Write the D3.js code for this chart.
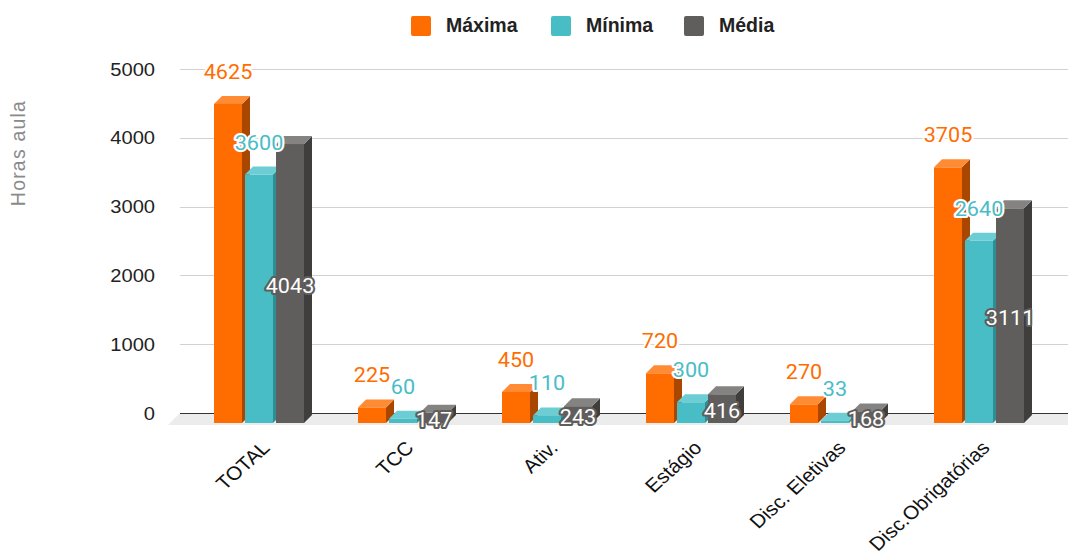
<!DOCTYPE html>
<html><head><meta charset="utf-8">
<script src="https://cdn.jsdelivr.net/npm/d3@7"></script>
<style>body{margin:0;background:#fff;}svg{display:block;}</style>
</head><body>
<svg id="c" width="1068" height="556"></svg>
<script>
const categories = ["TOTAL","TCC","Ativ.","Estágio","Disc. Eletivas","Disc.Obrigatórias"];
const maxima = [4625,225,450,720,270,3705];
const minima = [3600,60,110,300,33,2640];
const media = [4043,147,243,416,168,3111];
const seriesNames = ["Máxima","Mínima","Média"];
const yTicks = [0,1000,2000,3000,4000,5000];
const yTitle = "Horas aula";

const colors = {
  "Máxima": {front:"#ff6d00", top:"#ff8b35", side:"#a94700", label:"#ff6d00", outline:"#ffffff"},
  "Mínima": {front:"#48bdc6", top:"#6ccdd4", side:"#2f8d94", label:"#48bdc6", outline:"#ffffff"},
  "Média":  {front:"#605e5c", top:"#858382", side:"#403e3d", label:"#ffffff", outline:"#605e5c"}
};
const seriesData = {"Máxima":maxima,"Mínima":minima,"Média":media};

const svg = d3.select("#c");
const DX = 8, DY = 8;
const yBack = d3.scaleLinear().domain([0,5000]).range([413,69]);
const yFront = d3.scaleLinear().domain([0,5000]).range([423,78]);
const x = d3.scaleBand().domain(categories).range([187,1051]).padding(0);
const xs = d3.scaleBand().domain(seriesNames).range([0,90]).paddingInner(0.097);

// floor
svg.append("polygon")
  .attr("points", [[180,413],[1068,413],[1068,425],[168,425]].map(p=>p.join(",")).join(" "))
  .attr("fill","#ececec");

// gridlines
svg.append("g").selectAll("line").data(yTicks.filter(t=>t>0)).join("line")
  .attr("x1",180).attr("x2",1068)
  .attr("y1",d=>Math.round(yBack(d))+0.5).attr("y2",d=>Math.round(yBack(d))+0.5)
  .attr("stroke","#d2d2d2").attr("stroke-width",1.2);
svg.append("line").attr("x1",180).attr("x2",1068)
  .attr("y1",yBack(0)+0.5).attr("y2",yBack(0)+0.5)
  .attr("stroke","#333").attr("stroke-width",1.2);

// y tick labels
svg.append("g").selectAll("text").data(yTicks).join("text")
  .attr("transform",d=>`translate(155,${yBack(d)+6.5}) scale(1.15,1)`)
  .attr("text-anchor","end")
  .attr("font-family","Liberation Sans, Arial, sans-serif")
  .attr("font-size",17.5).attr("fill","#222")
  .text(d=>d);

// y title
svg.append("text")
  .attr("transform","translate(25,153) rotate(-90)")
  .attr("text-anchor","middle")
  .attr("font-family","Liberation Sans, Arial, sans-serif")
  .attr("font-size",19.5).attr("letter-spacing",1.2).attr("fill","#8a8a8a")
  .text(yTitle);

// bars
const barsG = svg.append("g");
const labelsG = svg.append("g");
categories.forEach((c,i)=>{
  const gx = x(c) + x.bandwidth()/2 - 45;
  seriesNames.forEach(s=>{
    const v = seriesData[s][i];
    const col = colors[s];
    const x0 = gx + xs(s), w = xs.bandwidth();
    const yT = yFront(v), yB = yFront(0);
    const g = barsG.append("g");
    g.append("polygon").attr("points",[[x0+w,yT],[x0+w+DX,yT-DY],[x0+w+DX,yB-DY],[x0+w,yB]].map(p=>p.join(",")).join(" "))
      .attr("fill",col.side);
    g.append("polygon").attr("points",[[x0,yT],[x0+DX,yT-DY],[x0+w+DX,yT-DY],[x0+w,yT]].map(p=>p.join(",")).join(" "))
      .attr("fill",col.top);
    g.append("rect").attr("x",x0).attr("y",yT).attr("width",w).attr("height",yB-yT).attr("fill",col.front);
    const ly = s==="Média" ? (yT+yB)/2 + 9 : yT - 25;
    labelsG.append("text")
      .attr("transform",`translate(${x0+w/2},${ly}) scale(1.08,1)`)
      .attr("text-anchor","middle")
      .attr("font-family","Roboto, sans-serif")
      .attr("font-size",20)
      .attr("fill",col.label)
      .attr("stroke",col.outline).attr("stroke-width",4).attr("stroke-linejoin","round")
      .attr("paint-order","stroke")
      .text(v);
  });
});

// category labels
svg.append("g").selectAll("text").data(categories).join("text")
  .attr("transform",d=>`translate(${x(d)+x.bandwidth()/2+12},${449}) scale(1.1,1) rotate(-45)`)
  .attr("text-anchor","end")
  .attr("font-family","Liberation Sans, Arial, sans-serif")
  .attr("font-size",19).attr("fill","#111")
  .text(d=>d);

// legend
const legX = [411,551,684];
const leg = svg.append("g");
seriesNames.forEach((s,i)=>{
  leg.append("rect").attr("x",legX[i]).attr("y",16).attr("width",20).attr("height",20).attr("rx",2)
    .attr("fill",colors[s].front);
  leg.append("text").attr("x",legX[i]+35).attr("y",32)
    .attr("font-family","Liberation Sans, Arial, sans-serif").attr("font-weight","bold")
    .attr("font-size",19.5).attr("fill","#222").text(s);
});
</script>
</body></html>
